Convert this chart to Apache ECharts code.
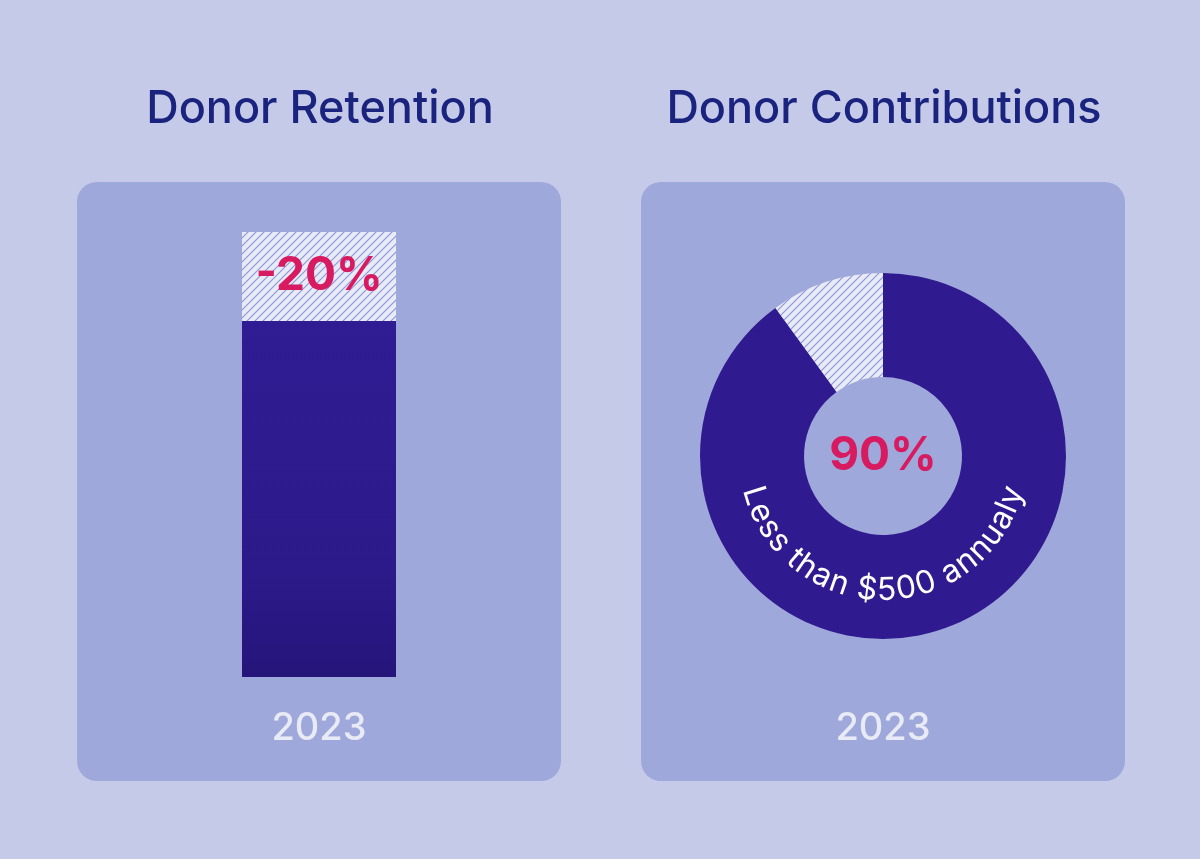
<!DOCTYPE html>
<html>
<head>
<meta charset="utf-8">
<script src="https://cdn.jsdelivr.net/npm/echarts@6/dist/echarts.min.js"></script>
<style>
  html, body { margin: 0; padding: 0; background: #c5cae9; }
  #chart { width: 1200px; height: 859px; }
</style>
</head>
<body>
<div id="chart"></div>
<script>
// ---- data ----
const titles = ['Donor Retention', 'Donor Contributions'];
const categories = ['2023'];
const retainedPct = [80];
const lostPct = [20];
const contribNames = ['Less than $500 annualy', 'Other'];
const contribValues = [90, 10];
const yearLabel = '2023';

// ---- styles ----
const BG = '#c5cae9', PANEL = '#9fa8da', LIGHT = '#e8eaf6', NAVY = '#1a237e',
      DARK = '#2f1b8f', PINK = '#d81b60';
const FONT = 'Inter, "Open Sans", sans-serif';

// hatch pattern
const tile = document.createElement('canvas');
tile.width = 8; tile.height = 8;
const tc = tile.getContext('2d');
tc.fillStyle = LIGHT; tc.fillRect(0, 0, 8, 8);
tc.strokeStyle = '#8e98d6'; tc.lineWidth = 1.2;
[[0, 8, 8, 0], [-2, 2, 2, -2], [6, 10, 10, 6]].forEach(l => {
  tc.beginPath(); tc.moveTo(l[0], l[1]); tc.lineTo(l[2], l[3]); tc.stroke();
});
const hatch = { image: tile, repeat: 'repeat' };

// donut geometry
const CX = 883, CY = 456, R_IN = 79, R_OUT = 183;

// curved text along bottom of ring
function curvedText(str, r, spanPx) {
  const m = document.createElement('canvas').getContext('2d');
  m.font = '400 100px ' + FONT;
  const chars = Array.from(str);
  let w = chars.map(c => m.measureText(c).width);
  const span100 = w.reduce((a, b) => a + b, 0) - (w[0] + w[w.length - 1]) / 2;
  const fs = 100 * spanPx / span100;
  w = w.map(v => v * fs / 100);
  const total = w.reduce((a, b) => a + b, 0);
  const start = Math.PI / 2 + (total / r) / 2;
  let cum = 0;
  return chars.map((c, i) => {
    const th = start - (cum + w[i] / 2) / r;
    cum += w[i];
    return {
      type: 'text', z: 50, silent: true,
      x: CX + r * Math.cos(th), y: CY + r * Math.sin(th),
      rotation: Math.PI / 2 - th,
      style: { text: c, fill: '#ffffff', font: '400 ' + fs.toFixed(2) + 'px ' + FONT,
               align: 'center', verticalAlign: 'middle', textAlign: 'center', textVerticalAlign: 'middle' }
    };
  });
}

const chart = echarts.init(document.getElementById('chart'), null, { renderer: 'canvas' });

const graphics = [
  { type: 'rect', z: 0, silent: true, shape: { x: 77, y: 182, width: 484, height: 599, r: 20 }, style: { fill: PANEL } },
  { type: 'rect', z: 0, silent: true, shape: { x: 641, y: 182, width: 484, height: 599, r: 20 }, style: { fill: PANEL } },
  { type: 'text', z: 50, x: 320, y: 109, style: { text: titles[0], fill: NAVY, font: '500 45px ' + FONT, align: 'center', verticalAlign: 'middle', textAlign: 'center', textVerticalAlign: 'middle' } },
  { type: 'text', z: 50, x: 884, y: 109, style: { text: titles[1], fill: NAVY, font: '500 45px ' + FONT, align: 'center', verticalAlign: 'middle', textAlign: 'center', textVerticalAlign: 'middle' } },
  { type: 'text', z: 50, x: 883, y: 729, style: { text: yearLabel, fill: LIGHT, font: '500 38px ' + FONT, align: 'center', verticalAlign: 'middle', textAlign: 'center', textVerticalAlign: 'middle' } }
].concat(curvedText(contribNames[0], 134.5, 342));

chart.setOption({
  backgroundColor: BG,
  animation: false,
  graphic: { elements: graphics },
  grid: { left: 242, right: 804, top: 232, bottom: 182, containLabel: false },
  xAxis: {
    type: 'category', data: categories,
    axisLine: { show: false }, axisTick: { show: false },
    axisLabel: { color: LIGHT, fontSize: 38, fontWeight: 500, fontFamily: FONT, margin: 52, verticalAlign: 'middle' }
  },
  yAxis: { type: 'value', min: 0, max: 100, show: false, splitLine: { show: false } },
  series: [
    {
      type: 'bar', stack: 'r', data: retainedPct, barWidth: '100%', silent: true,
      itemStyle: { color: { type: 'linear', x: 0, y: 0, x2: 0, y2: 1,
        colorStops: [{ offset: 0, color: '#301c93' }, { offset: 0.7, color: '#2c1a8a' }, { offset: 1, color: '#25157a' }] } }
    },
    {
      type: 'bar', stack: 'r', data: lostPct, barWidth: '100%', silent: true,
      itemStyle: { color: hatch },
      label: { show: true, position: 'inside', formatter: '-{c}%', color: PINK, fontSize: 46, fontWeight: 700, fontFamily: FONT }
    },
    {
      type: 'pie', center: [CX, CY], radius: [R_IN, R_OUT], startAngle: 90, clockwise: true,
      silent: true, z: 3,
      labelLine: { show: false },
      data: [
        { name: contribNames[0], value: contribValues[0], itemStyle: { color: DARK },
          label: { show: true, position: 'center', formatter: '{c}%', color: PINK, fontSize: 46, fontWeight: 700, fontFamily: FONT } },
        { name: contribNames[1], value: contribValues[1], itemStyle: { color: hatch }, label: { show: false } }
      ]
    }
  ]
});
</script>
</body>
</html>
